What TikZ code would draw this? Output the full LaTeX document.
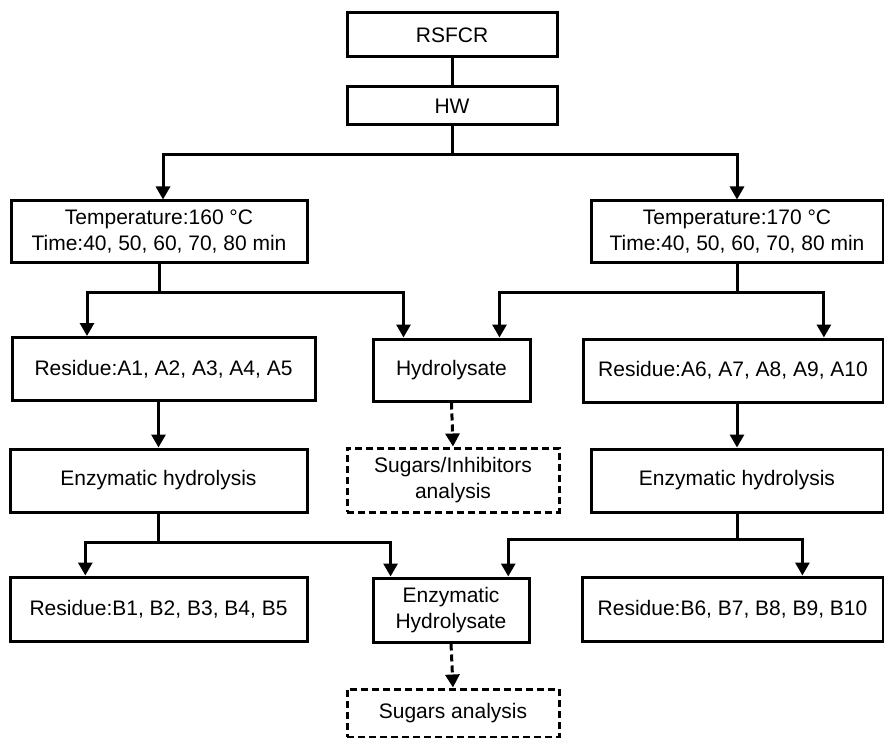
\documentclass[tikz,border=0pt]{standalone}
\usepackage{fontspec}
\setmainfont{Liberation Sans}
\usetikzlibrary{arrows.meta,calc}
\tikzset{
  box/.style={draw, line width=3pt, inner sep=0pt, align=center, font=\fontsize{21}{26}\selectfont},
  dbox/.style={box, dash pattern=on 7pt off 4pt},
  arr/.style={line width=3pt, -{Triangle[length=13pt,width=14pt]}},
  darr/.style={arr, dash pattern=on 7pt off 4pt},
}
\begin{document}
\begin{tikzpicture}[x=1pt,y=-1pt]
    \useasboundingbox (0,0) rectangle (884,738);
    % raw material and pretreatment
    \node[box, minimum width=210pt, minimum height=44pt] (rsfcr) at (452,35) {RSFCR};
    \node[box, minimum width=210pt, minimum height=38pt] (hw) at (452,106) {HW};
    \node[box, minimum width=296pt, minimum height=62pt] (temp1) at (159,232) {Temperature:160 °C\\Time:40, 50, 60, 70, 80 min};
    \node[box, minimum width=292pt, minimum height=62pt] (temp2) at (737,232) {Temperature:170 °C\\Time:40, 50, 60, 70, 80 min};

    % pretreatment products
    \node[box, minimum width=303pt, minimum height=63pt] (resA1) at (163.5,369) {Residue:A1, A2, A3, A4, A5};
    \node[box, minimum width=157pt, minimum height=62pt] (hydro) at (451.5,370) {Hydrolysate};
    \node[box, minimum width=300pt, minimum height=63pt] (resA2) at (733,370.5) {Residue:A6, A7, A8, A9, A10};
    \node[box, minimum width=297pt, minimum height=63pt] (enz1) at (158.5,480.5) {Enzymatic hydrolysis};
    \node[dbox, minimum width=212pt, minimum height=64pt] (anal1) at (453,480) {Sugars/Inhibitors\\analysis};
    \node[box, minimum width=292pt, minimum height=63pt] (enz2) at (737,480.5) {Enzymatic hydrolysis};

    % enzymatic hydrolysis products
    \node[box, minimum width=297pt, minimum height=64pt] (resB1) at (158.5,609) {Residue:B1, B2, B3, B4, B5};
    \node[box, minimum width=156pt, minimum height=64pt] (enzhyd) at (451,610) {Enzymatic\\Hydrolysate};
    \node[box, minimum width=301pt, minimum height=64pt] (resB2) at (732.5,609) {Residue:B6, B7, B8, B9, B10};
    \node[dbox, minimum width=212pt, minimum height=48pt] (anal2) at (453,713) {Sugars analysis};

    % connectors
    \draw[line width=3pt] (rsfcr.south) -- (hw.north);
    \draw[arr] (hw.south) -- ++(0,28) -| ([xshift=4pt]temp1.north);
    \draw[arr] (hw.south) -- ++(0,28) -| (temp2.north);

    \draw[arr] (temp1.south) -- ++(0,28) -| ($(resA1.north west)!0.25!(resA1.north east)$);
    \draw[arr] (temp1.south) -- ++(0,28) -| ($(hydro.north west)!0.2!(hydro.north east)$);
    \draw[arr] (temp2.south) -- ++(0,28) -| ($(hydro.north west)!0.8!(hydro.north east)$);
    \draw[arr] (temp2.south) -- ++(0,28) -| ($(resA2.north west)!0.8!(resA2.north east)$);

    \draw[arr] (resA1.south -| enz1) -- (enz1.north);
    \draw[darr] (hydro.south) -- (anal1.north);
    \draw[arr] (resA2.south -| enz2) -- (enz2.north);

    \draw[arr] (enz1.south) -- ++(0,29) -| ($(resB1.north west)!0.256!(resB1.north east)$);
    \draw[arr] (enz1.south) -- ++(0,29) -| ($(enzhyd.north west)!0.12!(enzhyd.north east)$);
    \draw[arr] (enz2.south) -- ++(0,26) -| ($(enzhyd.north west)!0.86!(enzhyd.north east)$);
    \draw[arr] (enz2.south) -- ++(0,26) -| ($(resB2.north west)!0.73!(resB2.north east)$);

    \draw[darr] (enzhyd.south) -- (anal2.north);
\end{tikzpicture}
\end{document}
